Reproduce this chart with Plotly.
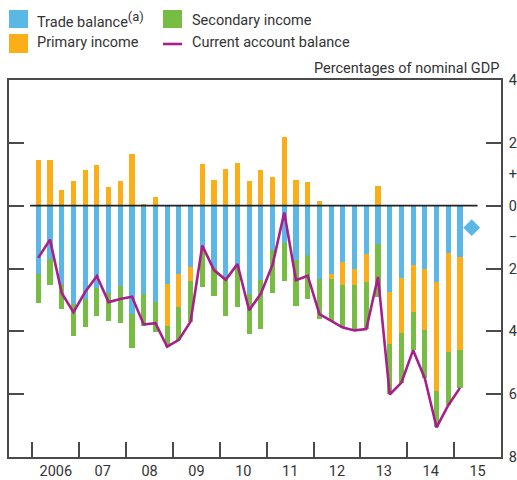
import plotly.graph_objects as go

# ---- data (percentages of nominal GDP), quarterly 2006 Q1 - 2015 Q1 ----
quarters = [f"{y} Q{q}" for y in range(2006, 2016) for q in range(1, 5)][:37]

trade_balance = [-2.16, -1.70, -2.50, -3.14, -2.98, -2.62, -2.79, -2.56,
                 -3.45, -2.82, -3.08, -2.48, -2.16, -1.96, -1.41, -1.97,
                 -2.27, -1.95, -2.82, -2.37, -1.41, -1.20, -1.73, -1.57,
                 -2.34, -2.16, -1.79, -2.02, -1.53, -1.22, -2.76, -2.30,
                 -1.89, -2.02, -2.43, -1.51, -1.64]
primary_income = [1.44, 1.44, 0.51, 0.77, 1.12, 1.28, 0.61, 0.77,
                  1.64, 0.06, 0.29, -1.34, -1.05, -0.45, 1.32, 0.83,
                  1.16, 1.35, 0.77, 1.12, 0.90, 2.18, 0.83, 0.74,
                  0.16, -0.18, -0.75, -0.51, -0.91, 0.64, -1.63, -1.76,
                  -1.48, -1.93, -3.47, -3.16, -2.95]
secondary_income = [-0.94, -0.82, -0.79, -1.02, -0.89, -0.90, -0.89, -1.18,
                    -1.09, -1.02, -0.95, -0.67, -1.06, -1.28, -1.18, -0.91,
                    -1.25, -1.26, -1.28, -1.55, -1.37, -1.20, -1.47, -1.40,
                    -1.27, -1.32, -1.34, -1.44, -1.49, -1.69, -1.62, -1.57,
                    -1.23, -1.55, -1.16, -1.68, -1.21]
current_account = [-1.66, -1.08, -2.78, -3.39, -2.75, -2.24, -3.07, -2.97,
                   -2.90, -3.78, -3.74, -4.49, -4.27, -3.69, -1.27, -2.05,
                   -2.36, -1.86, -3.33, -2.80, -1.88, -0.22, -2.37, -2.23,
                   -3.45, -3.66, -3.88, -3.97, -3.93, -2.27, -6.01, -5.63,
                   -4.60, -5.50, -7.06, -6.35, -5.80]
# latest trade balance estimate (2015 Q2), shown as a diamond
trade_q2_2015 = [-0.70]

year_labels = ["2006", "07", "08", "09", "10", "11", "12", "13", "14", "15"]
y_tick_vals = [4, 2, 1, 0, -1, -2, -4, -6, -8]
y_tick_text = ["4", "2", "+", "0", "\u2212", "2", "4", "6", "8"]
y_major_ticks = [2, 0, -2, -4, -6]

# ---- styling ----
BLUE = "#5bb8e6"
GREEN = "#77bd43"
ORANGE = "#fbae17"
PURPLE = "#a81f8c"
TEXT = "#333333"
FRAME = "#4a4a4a"
FONT = "Roboto"
FS = 14.5

x = list(range(len(quarters)))
year_starts = [4 * i - 0.5 for i in range(len(year_labels))]
year_mids = [4 * i + 1.5 for i in range(len(year_labels))]

fig = go.Figure()
bar_w = 0.43
fig.add_trace(go.Bar(x=x, y=trade_balance, marker_color=BLUE, width=bar_w,
                     marker_line_width=0, name="Trade balance", showlegend=False))
fig.add_trace(go.Bar(x=x, y=primary_income, marker_color=ORANGE, width=bar_w,
                     marker_line_width=0, name="Primary income", showlegend=False))
fig.add_trace(go.Bar(x=x, y=secondary_income, marker_color=GREEN, width=bar_w,
                     marker_line_width=0, name="Secondary income", showlegend=False))
fig.add_trace(go.Scatter(x=x, y=current_account, mode="lines",
                         line=dict(color=PURPLE, width=2.6),
                         name="Current account balance", showlegend=False))
fig.add_trace(go.Scatter(x=[len(quarters)], y=trade_q2_2015, mode="markers",
                         marker=dict(symbol="diamond", size=13, color=BLUE),
                         showlegend=False, cliponaxis=False))

# zero line
fig.add_shape(type="line", xref="x", yref="y", x0=-0.7, x1=37.5, y0=0, y1=0,
              line=dict(color="#222222", width=1.6), layer="above")

W, H = 517, 480
L, R, T, B = 9, 16, 80, 23
pw, ph = W - L - R, H - T - B


def px(xp):
    return (xp - L) / pw


def py(yp):
    return (H - B - yp) / ph


# legend (manual)
def swatch(x0, y0, x1, y1, color):
    fig.add_shape(type="rect", xref="paper", yref="paper",
                  x0=px(x0), x1=px(x1), y0=py(y1), y1=py(y0),
                  fillcolor=color, line_width=0)


swatch(9, 10, 28, 28, BLUE)
swatch(9, 34, 28, 53, ORANGE)
swatch(163, 10, 182, 28, GREEN)
fig.add_shape(type="line", xref="paper", yref="paper", x0=px(163), x1=px(182),
              y0=py(44), y1=py(44), line=dict(color=PURPLE, width=2.6))

legend_items = [("Trade balance<sup><span style='font-size:13px'>(a)</span></sup>", 35, 20),
                ("Primary income", 35, 43),
                ("Secondary income", 190, 20),
                ("Current account balance", 190, 43)]
for txt, xp, yp in legend_items:
    fig.add_annotation(text=txt, xref="paper", yref="paper", x=px(xp), y=py(yp),
                       xanchor="left", yanchor="middle", showarrow=False,
                       font=dict(family=FONT, size=FS, color=TEXT))

fig.add_annotation(text="Percentages of nominal GDP", xref="paper", yref="paper",
                   x=px(501), y=py(68), xanchor="right", yanchor="middle",
                   showarrow=False, font=dict(family=FONT, size=FS, color=TEXT))

fig.update_layout(
    width=W, height=H,
    margin=dict(l=L, r=R, t=T, b=B, autoexpand=False),
    paper_bgcolor="white", plot_bgcolor="white",
    barmode="relative", bargap=0,
    font=dict(family=FONT, size=FS, color=TEXT),
    xaxis=dict(range=[-2.5, 39.5], showgrid=False, zeroline=False, automargin=False,
               showline=True, linecolor=FRAME, linewidth=1.5, mirror=True,
               tickmode="array", tickvals=year_mids, ticktext=year_labels,
               ticks="", ticklabelstandoff=0,
               minor=dict(tickmode="array", tickvals=year_starts, ticks="inside",
                          ticklen=15, tickwidth=1.5, tickcolor=FRAME)),
    yaxis=dict(range=[-8, 4], side="right", showgrid=False, zeroline=False,
               automargin=False,
               showline=True, linecolor=FRAME, linewidth=1.5, mirror="ticks",
               tickmode="array", tickvals=y_tick_vals, ticktext=y_tick_text,
               ticks="", ticklabelstandoff=3,
               minor=dict(tickmode="array", tickvals=y_major_ticks, ticks="inside",
                          ticklen=15, tickwidth=1.5, tickcolor=FRAME)),
)

fig.write_html("out.html", config={"displayModeBar": False},
               post_script="document.body.style.margin='0';"
                           "document.body.style.overflow='hidden';")
